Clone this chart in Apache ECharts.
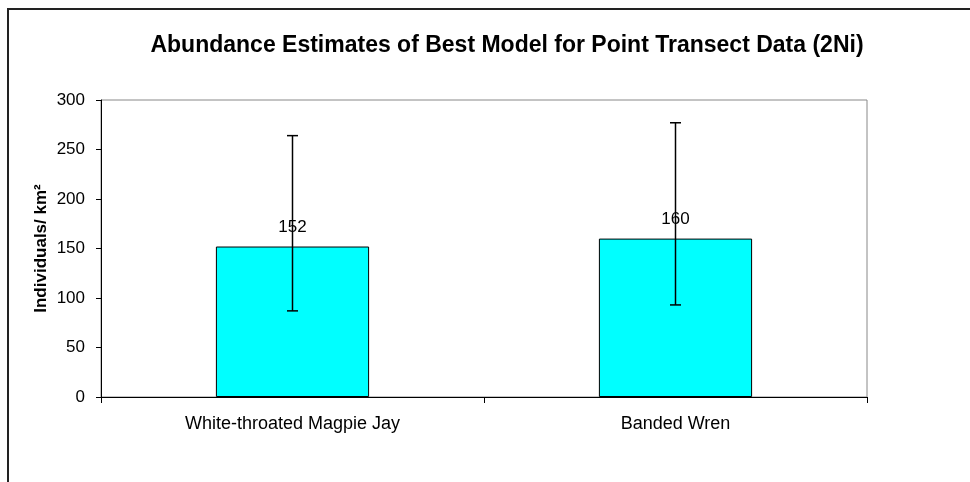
<!DOCTYPE html>
<html>
<head>
<meta charset="utf-8">
<script src="https://cdn.jsdelivr.net/npm/echarts@6/dist/echarts.min.js"></script>
<style>
  html, body { margin: 0; padding: 0; background: #fff; }
  #chart { width: 970px; height: 482px; }
</style>
</head>
<body>
<div id="chart"></div>
<script>
// Species and their estimated densities (individuals per km²)
const categories = ['White-throated Magpie Jay', 'Banded Wren'];
const estimates = [152, 160];
// Confidence interval bounds for each estimate
const lowerBounds = [87, 93];
const upperBounds = [264, 277];
// Value axis ticks
const yTicks = [0, 50, 100, 150, 200, 250, 300];

const FONT = '"Liberation Sans", Arial, Helvetica, sans-serif';

const chart = echarts.init(document.getElementById('chart'), null, { renderer: 'canvas' });

const errorData = categories.map((c, i) => [i, lowerBounds[i], upperBounds[i]]);

chart.setOption({
  animation: false,
  backgroundColor: '#ffffff',
  title: {
    text: 'Abundance Estimates of Best Model for Point Transect Data (2Ni)',
    left: 502,
    top: 29,
    textAlign: 'center',
    textStyle: { fontFamily: FONT, fontSize: 23, fontWeight: 'bold', color: '#000' }
  },
  graphic: [
    {
      type: 'rect',
      shape: { x: 8, y: 9, width: 980, height: 500 },
      style: { fill: 'none', stroke: '#222', lineWidth: 2 },
      silent: true,
      z: 100
    }
  ],
  grid: {
    left: 101,
    right: 103,
    top: 100,
    bottom: 85,
    show: true,
    borderColor: '#888',
    borderWidth: 1,
    backgroundColor: 'transparent'
  },
  xAxis: {
    type: 'category',
    data: categories,
    boundaryGap: true,
    axisLine: { show: true, lineStyle: { color: '#000', width: 1 } },
    axisTick: { show: true, length: 6, alignWithLabel: false, lineStyle: { color: '#000' } },
    axisLabel: { margin: 18, fontFamily: FONT, fontSize: 18, color: '#000' },
    splitLine: { show: false }
  },
  yAxis: {
    type: 'value',
    min: yTicks[0],
    max: yTicks[yTicks.length - 1],
    interval: yTicks[1] - yTicks[0],
    name: 'Individuals/ km²',
    nameLocation: 'middle',
    nameGap: 51,
    nameMoveOverlap: false,
    nameTextStyle: { fontFamily: FONT, fontSize: 17, fontWeight: 'bold', color: '#000' },
    axisLine: { show: true, lineStyle: { color: '#000', width: 1 } },
    axisTick: { show: true, length: 5, inside: false, lineStyle: { color: '#000' } },
    axisLabel: { margin: 16, fontFamily: FONT, fontSize: 17, color: '#000' },
    splitLine: { show: false }
  },
  series: [
    {
      type: 'bar',
      data: estimates,
      barWidth: '40%',
      itemStyle: { color: '#00ffff', borderColor: '#000', borderWidth: 1 },
      label: {
        show: true,
        position: 'top',
        distance: 11,
        fontFamily: FONT,
        fontSize: 17,
        color: '#000'
      },
      z: 2
    },
    {
      type: 'custom',
      data: errorData,
      z: 5,
      renderItem: function (params, api) {
        const x = api.value(0);
        const low = api.coord([x, api.value(1)]);
        const high = api.coord([x, api.value(2)]);
        const cap = 5.5;
        const style = { stroke: '#000', lineWidth: 1.5, fill: 'none' };
        return {
          type: 'group',
          children: [
            { type: 'line', shape: { x1: low[0], y1: low[1], x2: high[0], y2: high[1] }, style: style },
            { type: 'line', shape: { x1: high[0] - cap, y1: high[1], x2: high[0] + cap, y2: high[1] }, style: style },
            { type: 'line', shape: { x1: low[0] - cap, y1: low[1], x2: low[0] + cap, y2: low[1] }, style: style }
          ]
        };
      }
    }
  ]
});
</script>
</body>
</html>
